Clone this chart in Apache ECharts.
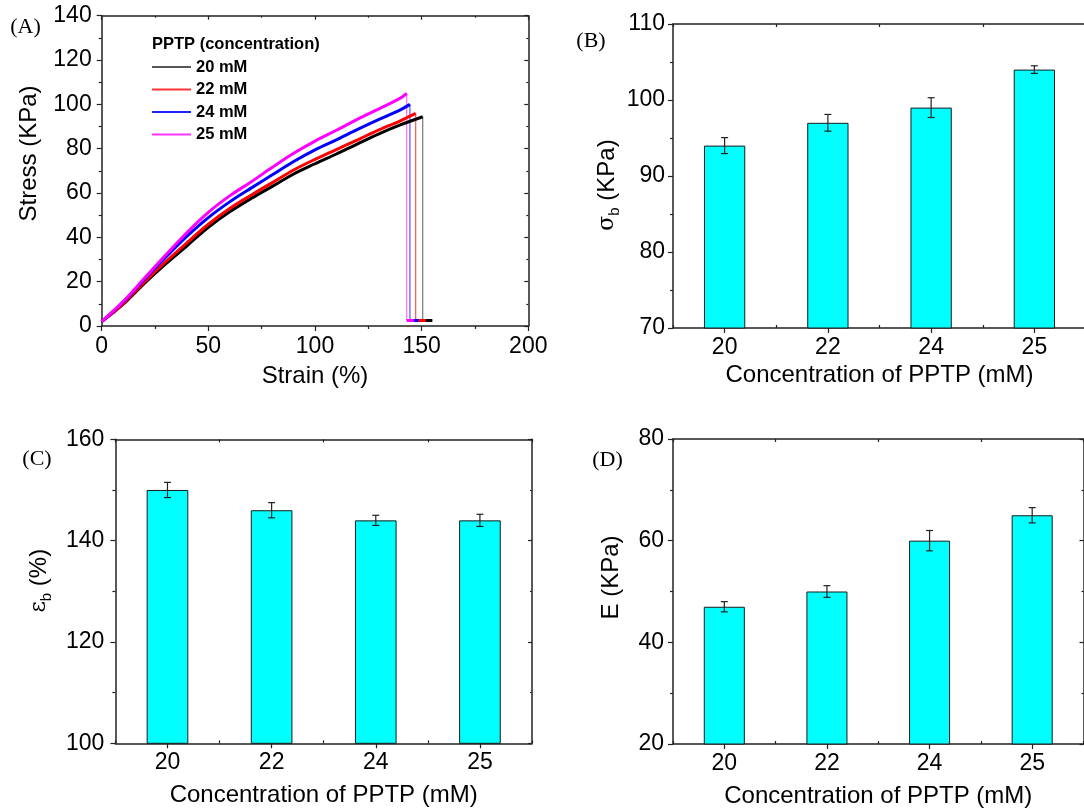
<!DOCTYPE html>
<html><head><meta charset="utf-8">
<script src="https://cdn.jsdelivr.net/npm/echarts@6/dist/echarts.min.js"></script>
<style>html,body{margin:0;padding:0;background:#fff}#c{width:1084px;height:809px}</style>
</head><body><div id="c"></div>
<script>
// ---- Panel A: stress-strain curves ----
const strainPts = [0,10,20,30,40,50,60,70,80,90,100,110,120,130,140];
const stress20 = [2,9.7,19.2,28,36.2,44.5,51.5,57.5,63,68.6,73.2,77.6,82.2,86.7,90.7];
const stress22 = [2,10,19.8,29,37.6,45.9,53,59,64.7,70.4,75.2,79.6,84,88.5,92.6];
const stress24 = [2,10.7,21,31,40.5,48.9,56,62.2,68.2,74.2,79.5,84,88.7,93.2,97.5];
const stress25 = [2,11,21.5,32,42.2,51.3,58.7,65,71.6,77.9,83.4,88.3,93.3,98,102.8];
const concNames = ['20 mM','22 mM','24 mM','25 mM'];
const breakStrain = [150.5,147.2,144.5,143];
const breakStress = [94.4,95.9,100,105];
const tailStrain = [155,152,148.5,146.5];
const residualStress = [2.5,2.5,2.5,2.5];
const strainTicks = [0,50,100,150,200];
const stressTicks = [0,20,40,60,80,100,120,140];

// ---- Panels B, C, D: bar charts ----
const categories = ['20','22','24','25'];
const sigmaB = [94,97,99,104];
const sigmaErr = [1.05,1.1,1.3,0.5];
const epsB = [150,146,144,144];
const epsErr = [1.5,1.5,1.0,1.2];
const modE = [47,50,60,65];
const modErr = [1.0,1.15,2.0,1.5];

const FONT = 'Liberation Sans, Arial, Helvetica, sans-serif';
const TICK_FS = 23, TITLE_FS = 24;
const lineColors = ['#000000','#ff0000','#0000ff','#ff00ff'];
const legendColors = ['#555555','#ff3333','#2222ff','#ff33ff'];
const dropColors = ['#777777','#ff5555','#5555ff','#ff66ff'];
const stressSets = [stress20,stress22,stress24,stress25];

const chart = echarts.init(document.getElementById('c'), null, {renderer:'canvas'});

const grids = [
  {left:101.7, top:15.7, width:426.6, height:310.3},
  {left:673, top:24, width:413, height:304},
  {left:115.4, top:439.3, width:416.6, height:304},
  {left:673, top:439, width:410.5, height:305}
].map(g => Object.assign({outerBoundsMode:'none', containLabel:false}, g));

const axisLineStyle = {color:'#222', width:1.5};
const tickStyle = {color:'#222', width:1.2};

function valAxisY(gi, min, max, interval, margin, rightTicks) {
  return [
    {gridIndex:gi, type:'value', min, max, interval, position:'left',
     axisLine:{show:true, onZero:false, lineStyle:axisLineStyle},
     axisTick:{show:true, length:5, lineStyle:tickStyle},
     minorTick:{show:true, splitNumber:2, length:3, lineStyle:tickStyle},
     splitLine:{show:false}, minorSplitLine:{show:false},
     axisLabel:{fontSize:TICK_FS, color:'#000', margin, fontFamily:FONT}},
    {gridIndex:gi, type:'value', min, max, interval, position:'right',
     axisLine:{show:true, onZero:false, lineStyle:axisLineStyle},
     axisTick:{show:rightTicks, inside:true, length:4, lineStyle:tickStyle},
     minorTick:{show:rightTicks, splitNumber:2, length:2, lineStyle:tickStyle},
     splitLine:{show:false}, axisLabel:{show:false}}
  ];
}
function catAxesX(gi, nameGap) {
  return [
    {gridIndex:gi, type:'category', data:categories, position:'bottom',
     axisLine:{show:true, onZero:false, lineStyle:axisLineStyle},
     axisTick:{show:true, alignWithLabel:true, length:5, lineStyle:tickStyle},
     axisLabel:{fontSize:TICK_FS, color:'#000', margin:8, fontFamily:FONT},
     name:'Concentration of PPTP (mM)', nameLocation:'middle', nameGap,
     nameTextStyle:{fontSize:TITLE_FS, color:'#000', fontFamily:FONT}},
    {gridIndex:gi, type:'category', data:categories, position:'bottom',
     axisLine:{show:false}, axisTick:{show:true, inside:true, length:3, lineStyle:tickStyle},
     axisLabel:{show:false}},
    {gridIndex:gi, type:'category', data:categories, position:'top',
     axisLine:{show:true, onZero:false, lineStyle:axisLineStyle},
     axisTick:{show:true, inside:true, length:3, lineStyle:tickStyle},
     axisLabel:{show:false}}
  ];
}

const xAxes = [
  {gridIndex:0, type:'value', min:strainTicks[0], max:strainTicks[strainTicks.length-1], interval:50, position:'bottom',
   axisLine:{show:true, onZero:false, lineStyle:axisLineStyle},
   axisTick:{show:true, length:5, lineStyle:tickStyle},
   minorTick:{show:true, splitNumber:2, length:3, lineStyle:tickStyle},
   splitLine:{show:false},
   axisLabel:{fontSize:TICK_FS, color:'#000', margin:9, fontFamily:FONT},
   name:'Strain (%)', nameLocation:'middle', nameGap:38,
   nameTextStyle:{fontSize:TITLE_FS, color:'#000', fontFamily:FONT}},
  {gridIndex:0, type:'value', min:0, max:200, interval:50, position:'top',
   axisLine:{show:true, onZero:false, lineStyle:axisLineStyle},
   axisTick:{show:true, inside:true, length:4, lineStyle:tickStyle},
   minorTick:{show:true, splitNumber:2, length:2, lineStyle:tickStyle},
   splitLine:{show:false}, axisLabel:{show:false}},
  ...catAxesX(1, 35),
  ...catAxesX(2, 40),
  ...catAxesX(3, 40)
];
const yAxes = [
  ...valAxisY(0, stressTicks[0], stressTicks[stressTicks.length-1], 20, 10, true),
  ...valAxisY(1, 70, 110, 10, 8, false),
  ...valAxisY(2, 100, 160, 20, 11, true),
  ...valAxisY(3, 20, 80, 20, 9, true)
];

const series = [];
stressSets.forEach((arr, k) => {
  const data = strainPts.map((s, i) => [s, arr[i]]);
  data.push([breakStrain[k], breakStress[k]]);
  series.push({type:'line', name:concNames[k], xAxisIndex:0, yAxisIndex:0, data,
    showSymbol:false, symbol:'none', smooth:0.35, lineStyle:{color:lineColors[k], width:3},
    itemStyle:{color:legendColors[k]}, z:3+k, silent:true});
  series.push({type:'line', name:concNames[k]+' drop', xAxisIndex:0, yAxisIndex:0,
    data:[[breakStrain[k], breakStress[k]],[breakStrain[k], residualStress[k]],[tailStrain[k], residualStress[k]]],
    showSymbol:false, symbol:'none', lineStyle:{color:dropColors[k], width:1.2},
    itemStyle:{color:dropColors[k]}, z:2, silent:true});
});
stressSets.forEach((arr,k)=>{
  series.push({type:'line', name:concNames[k]+' tail', xAxisIndex:0, yAxisIndex:0,
    data:[[breakStrain[k], residualStress[k]],[tailStrain[k], residualStress[k]]],
    showSymbol:false, symbol:'none', lineStyle:{color:lineColors[k], width:3},
    z:2+k, silent:true});
});

function errRender(params, api) {
  const x = api.value(0);
  const hi = api.coord([x, api.value(1)]);
  const lo = api.coord([x, api.value(2)]);
  const cw = 3.5;
  const st = {stroke:'#222', lineWidth:1.2};
  return {type:'group', children:[
    {type:'line', shape:{x1:hi[0], y1:hi[1], x2:lo[0], y2:lo[1]}, style:st},
    {type:'line', shape:{x1:hi[0]-cw, y1:hi[1], x2:hi[0]+cw, y2:hi[1]}, style:st},
    {type:'line', shape:{x1:lo[0]-cw, y1:lo[1], x2:lo[0]+cw, y2:lo[1]}, style:st}
  ]};
}
const barSets = [[sigmaB, sigmaErr],[epsB, epsErr],[modE, modErr]];
barSets.forEach((pair, j) => {
  const xi = 2 + j*3;
  const yi = 2 + j*2;
  series.push({type:'bar', xAxisIndex:xi, yAxisIndex:yi, data:pair[0], barWidth:'40%',
    itemStyle:{color:'#00ffff', borderColor:'#1a1a1a', borderWidth:1}, clip:true, silent:true, z:2});
  series.push({type:'custom', xAxisIndex:xi, yAxisIndex:yi, renderItem:errRender,
    data:pair[0].map((v,i)=>[i, v + pair[1][i], v - pair[1][i]]),
    encode:{x:0, y:[1,2]}, z:5, silent:true});
});

const ytitleRich = {
  m:{fontSize:TITLE_FS, fontFamily:FONT, fill:'#000', lineHeight:30, verticalAlign:'middle'},
  g:{fontSize:22, fontFamily:'DejaVu Serif, serif', fill:'#000', lineHeight:30, verticalAlign:'middle'},
  s:{fontSize:15, fontFamily:FONT, fill:'#000', lineHeight:15, verticalAlign:'bottom'}
};
function yTitle(x, y, text) {
  return {type:'text', x, y, rotation:Math.PI/2, z:10,
    style:{text, rich:ytitleRich, align:'center', verticalAlign:'middle', fill:'#000', font:TITLE_FS+'px '+FONT}};
}
function panelLabel(x, y, t) {
  return {type:'text', x, y, z:10, style:{text:t, fill:'#000', font:'22px "Liberation Serif", "DejaVu Serif", serif', align:'center', verticalAlign:'middle'}};
}

chart.setOption({
  animation:false,
  textStyle:{fontFamily:FONT},
  grid:grids,
  xAxis:xAxes,
  yAxis:yAxes,
  legend:{show:true, data:concNames, orient:'vertical', left:152, top:58, padding:0,
    icon:'rect', itemWidth:39, itemHeight:2, itemGap:4.5, selectedMode:false,
    textStyle:{fontSize:16.5, fontWeight:'bold', color:'#000', fontFamily:FONT, lineHeight:18}},
  series,
  graphic:[
    {type:'text', x:152, y:44.4, z:10, style:{text:'PPTP (concentration)', fill:'#000', font:'bold 16.5px '+FONT, align:'left', verticalAlign:'middle'}},
    yTitle(29.3, 153.5, '{m|Stress (KPa)}'),
    yTitle(607.7, 185, '{g|σ}{s|b}{m| (KPa)}'),
    yTitle(39.6, 580.7, '{g|ε}{s|b}{m| (%)}'),
    yTitle(611, 577.5, '{m|E (KPa)}'),
    panelLabel(25.5, 27, '(A)'),
    panelLabel(591, 41, '(B)'),
    panelLabel(37, 459, '(C)'),
    panelLabel(607.5, 460, '(D)')
  ]
});
</script></body></html>
